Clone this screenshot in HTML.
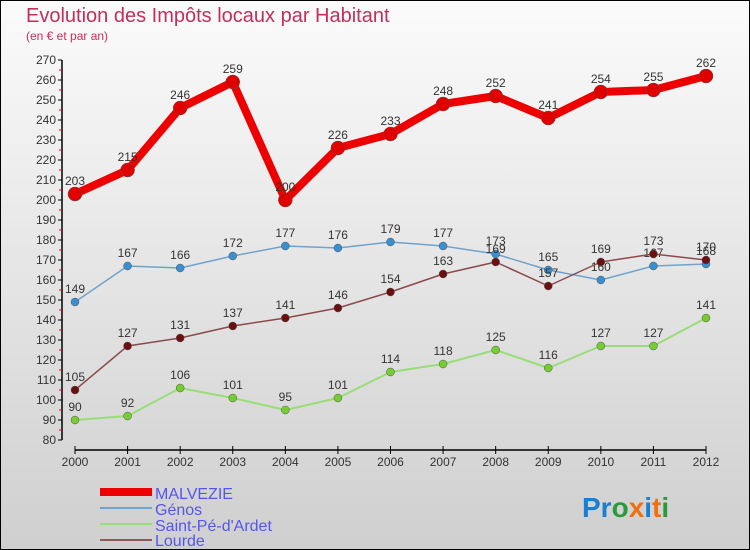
<!DOCTYPE html>
<html><head><meta charset="utf-8"><style>
body{margin:0;width:750px;height:550px;overflow:hidden;font-family:"Liberation Sans",sans-serif}
svg{display:block}
</style></head><body>
<svg id="chart" width="750" height="550" xmlns="http://www.w3.org/2000/svg">
<defs><linearGradient id="bg" x1="0" y1="0" x2="0" y2="1"><stop offset="0" stop-color="#fbfbfb"/><stop offset="1" stop-color="#cfcfcf"/></linearGradient></defs>
<rect x="0.5" y="0.5" width="749" height="549" fill="url(#bg)" stroke="#000"/>
<text x="26" y="22" font-size="20" fill="#c0305a">Evolution des Impôts locaux par Habitant</text>
<text x="26" y="40" font-size="12" fill="#c0305a">(en € et par an)</text>
<g id="axes"></g><g id="series"></g>
<g>
<rect x="100" y="488" width="52" height="8" fill="#e00"/>
<text x="155" y="499" font-size="16" fill="#5555ee">MALVEZIE</text>
<line x1="100" y1="508" x2="152" y2="508" stroke="#6fa3cc" stroke-width="2"/>
<text x="155" y="515" font-size="16" fill="#5555ee">Génos</text>
<line x1="100" y1="524" x2="152" y2="524" stroke="#99dd77" stroke-width="2"/>
<text x="155" y="531" font-size="16" fill="#5555ee">Saint-Pé-d'Ardet</text>
<line x1="100" y1="540" x2="152" y2="540" stroke="#8b5a5a" stroke-width="2"/>
<text x="155" y="546" font-size="16" fill="#5555ee">Lourde</text>
</g>
<text x="582" y="517" font-size="28" font-weight="bold"><tspan fill="#1a7fd0">Pr</tspan><tspan fill="#2a9a3a">o</tspan><tspan fill="#f07010">x</tspan><tspan fill="#1a7fd0">i</tspan><tspan fill="#f07010">t</tspan><tspan fill="#2a9a3a">i</tspan></text>
</svg>
<script>
const years=[2000,2001,2002,2003,2004,2005,2006,2007,2008,2009,2010,2011,2012];
const malvezie=[203,215,246,259,200,226,233,248,252,241,254,255,262];
const genos=[149,167,166,172,177,176,179,177,173,165,160,167,168];
const saintPe=[90,92,106,101,95,101,114,118,125,116,127,127,141];
const lourde=[105,127,131,137,141,146,154,163,169,157,169,173,170];
const yTicks=[80,90,100,110,120,130,140,150,160,170,180,190,200,210,220,230,240,250,260,270];
const NS="http://www.w3.org/2000/svg";
const xS=i=>75+i*(706-75)/(years.length-1);
const yS=v=>440-(v-80)*(380/190);
function mk(t,a,p){const e=document.createElementNS(NS,t);for(const k in a)e.setAttribute(k,a[k]);p.appendChild(e);return e;}
const ax=document.getElementById('axes');
const yl=mk('line',{x1:62,y1:yS(270),x2:62,y2:yS(80),stroke:'#000','stroke-width':1.5},ax);


yTicks.forEach(v=>{
 mk('line',{x1:58,y1:yS(v),x2:62,y2:yS(v),stroke:'#000'},ax);
 if(v<270)mk('line',{x1:59,y1:yS(v+5),x2:62,y2:yS(v+5),stroke:'#e00'},ax);
 const t=mk('text',{x:56,y:yS(v)+4,'text-anchor':'end','font-size':12,fill:'#333'},ax);t.textContent=v;
 
 
});
const xl=mk('line',{x1:75,y1:450,x2:706,y2:450,stroke:'#000','stroke-width':1.5},ax);


years.forEach((y,i)=>{
 mk('line',{x1:xS(i),y1:446,x2:xS(i),y2:454,stroke:'#000'},ax);
 const t=mk('text',{x:xS(i),y:466,'text-anchor':'middle','font-size':12,fill:'#333'},ax);t.textContent=y;
 
 
});
const sg=document.getElementById('series');
function series(vals,name,color,dot,w,r){
 const g=mk('g',{},sg);
 
 
 const pl=mk('polyline',{points:vals.map((v,i)=>xS(i)+','+yS(v)).join(' '),fill:'none',stroke:color,'stroke-width':w,'stroke-linejoin':'round'},g);
 
 
 vals.forEach((v,i)=>{
  const c=mk('circle',{cx:xS(i),cy:yS(v),r:r,fill:dot,stroke:'#555','stroke-width':0.5},g);
  
  
  const t=mk('text',{x:xS(i),y:yS(v)-9,'text-anchor':'middle','font-size':12,fill:'#333'},g);t.textContent=v;
  
  
 });
}
series(saintPe,'saint-pe','#99dd77','#77cc33',2,4);
series(genos,'genos','#6fa3cc','#3a8fd0',1.5,4);
series(lourde,'lourde','#8b4a4a','#6a1010',1.5,4);
series(malvezie,'malvezie','#ee0000','#e00000',8,7);
</script>
</body></html>
